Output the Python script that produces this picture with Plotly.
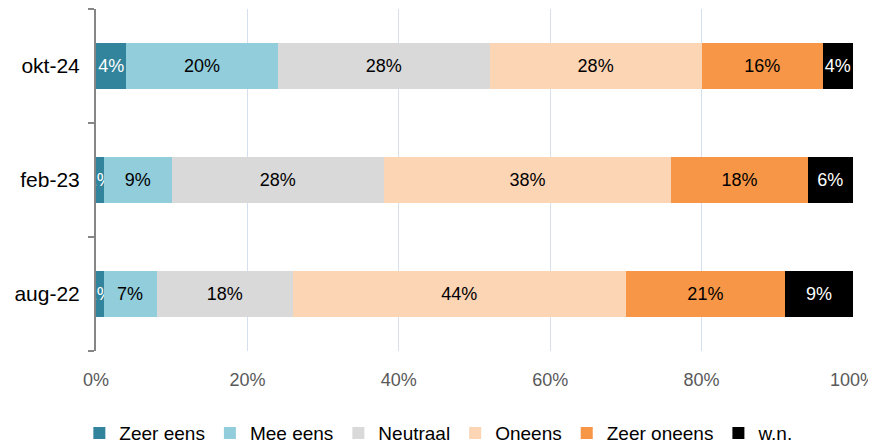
import plotly.graph_objects as go

categories = ["aug-22", "feb-23", "okt-24"]
series_names = ["Zeer eens", "Mee eens", "Neutraal", "Oneens", "Zeer oneens", "w.n."]
zeer_eens = [1, 1, 4]
mee_eens = [7, 9, 20]
neutraal = [18, 28, 28]
oneens = [44, 38, 28]
zeer_oneens = [21, 18, 16]
wn = [9, 6, 4]
series_values = [zeer_eens, mee_eens, neutraal, oneens, zeer_oneens, wn]
colors = ["#31849B", "#92CDDC", "#D9D9D9", "#FCD5B5", "#F79646", "#000000"]
text_colors = ["white", "black", "black", "black", "black", "white"]
x_ticks = [0, 20, 40, 60, 80, 100]
x_tick_labels = ["0%", "20%", "40%", "60%", "80%", "100%"]

FONT = "Liberation Sans, Arial, sans-serif"

fig = go.Figure()
for name, vals, c, tc in zip(series_names, series_values, colors, text_colors):
    fig.add_trace(go.Bar(
        y=categories, x=vals, name=name, orientation="h",
        marker=dict(color=c, line=dict(width=0)),
        text=[f"{v}%" for v in vals], textposition="inside",
        insidetextanchor="middle", textangle=0,
        textfont=dict(color=tc, size=18, family=FONT),
        constraintext="none", cliponaxis=True,
        hoverinfo="skip",
    ))

fig.update_layout(
    barmode="stack",
    bargap=0.6,
    width=868, height=437,
    margin=dict(l=88, r=23, t=1, b=94, autoexpand=False),
    plot_bgcolor="white", paper_bgcolor="white",
    font=dict(family=FONT, size=18, color="black"),
    uniformtext=dict(minsize=18, mode="show"),
    showlegend=True,
    legend=dict(orientation="h", x=-0.022, xanchor="left", y=-0.24, yanchor="middle",
                font=dict(size=19, family=FONT), traceorder="normal",
                itemwidth=30),
    xaxis=dict(range=[0, 100], tickvals=x_ticks, ticktext=x_tick_labels,
               showgrid=True, gridcolor="#D5DFEF", gridwidth=1, zeroline=False,
               showline=False, ticks="", automargin=False, ticklabelstandoff=16,
               ticklabeloverflow="allow",
               tickfont=dict(size=18, family=FONT, color="#595959")),
    yaxis=dict(categoryorder="array", categoryarray=categories,
               showline=True, linecolor="#868686", linewidth=2,
               ticks="outside", tickson="boundaries", ticklen=6, tickcolor="#868686",
               tickwidth=1.5, showgrid=False, automargin=False, ticklabelstandoff=10,
               tickfont=dict(size=21, family=FONT, color="black")),
)
fig.write_html("out.html")
